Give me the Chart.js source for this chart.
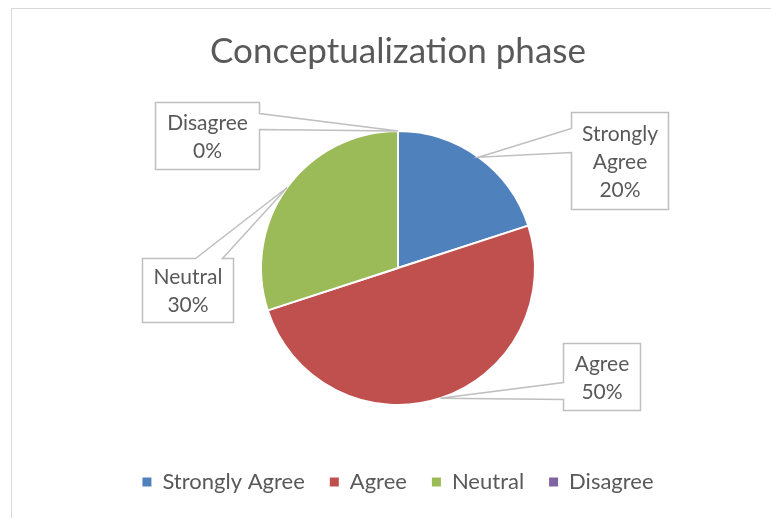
<!DOCTYPE html>
<html>
<head>
<meta charset="utf-8">
<script src="https://cdn.jsdelivr.net/npm/chart.js@4.4.1/dist/chart.umd.min.js"></script>
<style>
  html, body { margin: 0; padding: 0; background: #fff; overflow: hidden; }
  #wrap { width: 771px; height: 518px; }
</style>
</head>
<body>
<div id="wrap"><canvas id="pieChart" width="771" height="518"></canvas></div>
<script>
const categories = ["Strongly Agree", "Agree", "Neutral", "Disagree"];
const shares = [20, 50, 30, 0];
const sliceColors = ["#4F81BD", "#C0504D", "#9BBB59", "#8064A2"];

// callout boxes, placed relative to the pie centre
// dx/dy = top-left offset, w/h = size, side + a..b = where the pointer leaves the box
const callouts = [
    { dx: 173, dy: -156, w: 97, h: 97, side: "left", a: 16, b: 40 },
    { dx: 165, dy: 75, w: 77, h: 67, side: "left", a: 39, b: 56 },
    { dx: -256, dy: -10, w: 91, h: 64, side: "top", a: 53, b: 80 },
    { dx: -243, dy: -166, w: 104, h: 67, side: "right", a: 11, b: 27 }
];

const textColor = "#595959";
const fontFamily = "Lato";

function wrapWords(ctx, text, maxW) {
    const words = text.split(" ");
    const lines = [];
    let cur = "";
    words.forEach(w => {
        const test = cur ? cur + " " + w : w;
        if (cur && ctx.measureText(test).width > maxW) {
            lines.push(cur);
            cur = w;
        } else cur = test;
    });
    if (cur) lines.push(cur);
    return lines;
}

// frame round the chart
const framePlugin = {
    id: "frame",
    beforeDraw(chart) {
        const ctx = chart.ctx;
        ctx.save();
        ctx.strokeStyle = "#d9d9d9";
        ctx.lineWidth = 1;
        ctx.strokeRect(11.5, 8.5, 900, 900);
        ctx.restore();
    }
};

// excel style callout labels
const calloutPlugin = {
    id: "callouts",
    afterDatasetsDraw(chart) {
        const ctx = chart.ctx;
        const meta = chart.getDatasetMeta(0);
        const total = shares.reduce((s, v) => s + v, 0);
        ctx.save();
        ctx.font = "21px " + fontFamily;
        meta.data.forEach((arc, i) => {
            const c = callouts[i];
            const mid = (arc.startAngle + arc.endAngle) / 2;
            const tx = arc.x + Math.cos(mid) * arc.outerRadius;
            const ty = arc.y + Math.sin(mid) * arc.outerRadius;
            const x = Math.round(arc.x + c.dx) + 0.5;
            const y = Math.round(arc.y + c.dy) + 0.5;

            ctx.beginPath();
            ctx.moveTo(x, y);
            if (c.side === "top") {
                ctx.lineTo(x + c.a, y);
                ctx.lineTo(tx, ty);
                ctx.lineTo(x + c.b, y);
            }
            ctx.lineTo(x + c.w, y);
            if (c.side === "right") {
                ctx.lineTo(x + c.w, y + c.a);
                ctx.lineTo(tx, ty);
                ctx.lineTo(x + c.w, y + c.b);
            }
            ctx.lineTo(x + c.w, y + c.h);
            ctx.lineTo(x, y + c.h);
            if (c.side === "left") {
                ctx.lineTo(x, y + c.b);
                ctx.lineTo(tx, ty);
                ctx.lineTo(x, y + c.a);
            }
            ctx.closePath();
            ctx.fillStyle = "#fff";
            ctx.fill();
            ctx.strokeStyle = "#bfbfbf";
            ctx.lineWidth = 1.5;
            ctx.stroke();

            const pct = Math.round(shares[i] / total * 100) + "%";
            const lines = wrapWords(ctx, categories[i], c.w - 14).concat([pct]);
            const lh = 28;
            ctx.fillStyle = textColor;
            ctx.textAlign = "center";
            ctx.textBaseline = "middle";
            const cy = y + c.h / 2 - (lines.length - 1) * lh / 2;
            lines.forEach((ln, k) => ctx.fillText(ln, x + c.w / 2, cy + k * lh + 1));
        });
        ctx.restore();
    }
};

new Chart(document.getElementById("pieChart"), {
    type: "pie",
    data: {
        labels: categories,
        datasets: [{
            data: shares,
            backgroundColor: sliceColors,
            borderColor: "#ffffff",
            borderWidth: 2,
            radius: 137
        }]
    },
    options: {
        responsive: false,
        animation: false,
        layout: { padding: { left: 25, right: 0, bottom: 15 } },
        plugins: {
            title: {
                display: true,
                text: "Conceptualization phase",
                color: textColor,
                font: { family: fontFamily, size: 35, weight: "normal" },
                padding: { top: 31, bottom: 17 }
            },
            legend: {
                position: "bottom",
                labels: {
                    color: textColor,
                    font: { family: fontFamily, size: 22 },
                    boxWidth: 9,
                    boxHeight: 9,
                    padding: 25,
                    generateLabels(chart) {
                        const items = Chart.overrides.pie.plugins.legend.labels.generateLabels(chart);
                        return items.map(it => Object.assign(it, { lineWidth: 0, strokeStyle: it.fillStyle }));
                    }
                }
            },
            tooltip: { enabled: false }
        }
    },
    plugins: [framePlugin, calloutPlugin]
});
</script>
</body>
</html>
